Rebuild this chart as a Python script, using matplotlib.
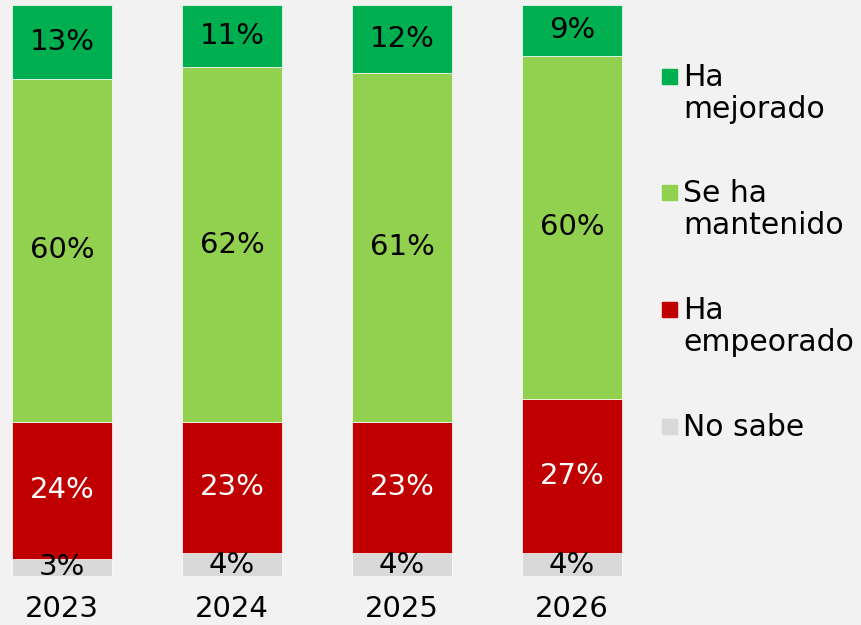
import matplotlib.pyplot as plt
from matplotlib.patches import Rectangle
import numpy as np

years = ['2023', '2024', '2025', '2026']
no_sabe = [3, 4, 4, 4]
empeorado = [24, 23, 23, 27]
mantenido = [60, 62, 61, 60]
mejorado = [13, 11, 12, 9]

series = [no_sabe, empeorado, mantenido, mejorado]
colores = ['#D9D9D9', '#C00000', '#92D050', '#00B050']
colores_texto = ['black', 'white', 'black', 'black']
etiquetas = ['No sabe', 'Ha\nempeorado', 'Se ha\nmantenido', 'Ha\nmejorado']

plt.rcParams['font.family'] = ['DejaVu Sans']
fondo = '#F2F2F2'

fig = plt.figure(figsize=(8.61, 6.25), dpi=100, facecolor=fondo)
ax = fig.add_axes([0, 49 / 625, 640 / 861, 571.5 / 625])
ax.set_facecolor(fondo)

x = np.arange(len(years))
base = np.zeros(len(years))
for vals, col, tcol in zip(series, colores, colores_texto):
    bars = ax.bar(x, vals, width=100 / 170, bottom=base, color=col,
                  edgecolor='white', linewidth=0.5)
    ax.bar_label(bars, labels=[f'{v}%' for v in vals], label_type='center',
                 color=tcol, fontsize=21)
    base += vals

ax.set_xlim(-62 / 170, (640 - 62) / 170)
ax.set_ylim(0, 100)
ax.set_xticks(x)
ax.set_xticklabels(years, fontsize=21)
ax.tick_params(axis='x', length=0, pad=14)
ax.set_yticks([])
for s in ax.spines.values():
    s.set_visible(False)

# leyenda a la derecha
tops = [69, 185, 302, 419]
for top, lab, col in zip(tops, etiquetas[::-1], colores[::-1]):
    fig.add_artist(Rectangle((662 / 861, 1 - (top + 15) / 625), 15 / 861, 15 / 625,
                             color=col, transform=fig.transFigure))
    for i, linea in enumerate(lab.split('\n')):
        fig.text(683 / 861, 1 - (top + 17 + 32 * i) / 625, linea,
                 fontsize=21.5, va='baseline', ha='left')

fig.savefig('out.png', dpi=100, facecolor=fondo)
